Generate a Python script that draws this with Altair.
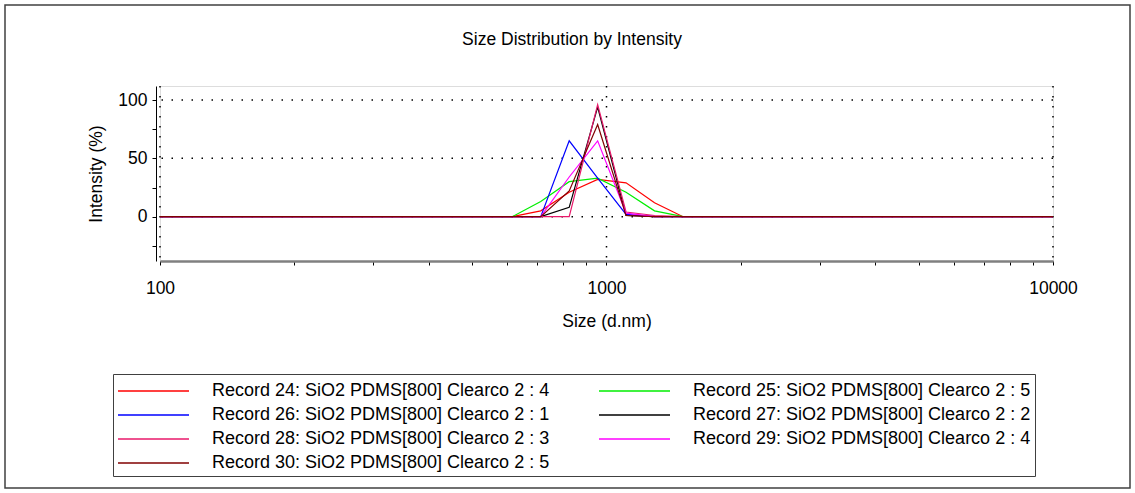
import altair as alt
import pandas as pd

# Size bins (d.nm) shown in the 100..10000 window
sizes = [91.28, 105.7, 122.4, 141.8, 164.2, 190.1, 220.2, 255.0, 295.3, 342.0,
         396.1, 458.7, 531.2, 615.1, 712.4, 825.0, 955.4, 1106, 1281, 1484,
         1719, 1990, 2305, 2669, 3091, 3580, 4145, 4801, 5560, 6439, 7456, 8635, 10000]

rec24 = [0, 0, 0, 0, 0, 0, 0, 0, 0, 0, 0, 0, 0, 0, 5, 21, 32, 29, 12, 0, 0, 0, 0, 0, 0, 0, 0, 0, 0, 0, 0, 0, 0]
rec25 = [0, 0, 0, 0, 0, 0, 0, 0, 0, 0, 0, 0, 0, 0, 13, 30, 33, 21, 5, 0, 0, 0, 0, 0, 0, 0, 0, 0, 0, 0, 0, 0, 0]
rec26 = [0, 0, 0, 0, 0, 0, 0, 0, 0, 0, 0, 0, 0, 0, 0, 65, 33, 2, 0, 0, 0, 0, 0, 0, 0, 0, 0, 0, 0, 0, 0, 0, 0]
rec27 = [0, 0, 0, 0, 0, 0, 0, 0, 0, 0, 0, 0, 0, 0, 0, 8, 94, 1, 0, 0, 0, 0, 0, 0, 0, 0, 0, 0, 0, 0, 0, 0, 0]
rec28 = [0, 0, 0, 0, 0, 0, 0, 0, 0, 0, 0, 0, 0, 0, 0, 0, 96, 4, 1, 0, 0, 0, 0, 0, 0, 0, 0, 0, 0, 0, 0, 0, 0]
rec29 = [0, 0, 0, 0, 0, 0, 0, 0, 0, 0, 0, 0, 0, 0, 0, 34, 65, 3, 0, 0, 0, 0, 0, 0, 0, 0, 0, 0, 0, 0, 0, 0, 0]
rec30 = [0, 0, 0, 0, 0, 0, 0, 0, 0, 0, 0, 0, 0, 0, 0, 22, 79, 1, 0, 0, 0, 0, 0, 0, 0, 0, 0, 0, 0, 0, 0, 0, 0]

series_names = [
    "Record 24: SiO2 PDMS[800] Clearco 2 : 4",
    "Record 25: SiO2 PDMS[800] Clearco 2 : 5",
    "Record 26: SiO2 PDMS[800] Clearco 2 : 1",
    "Record 27: SiO2 PDMS[800] Clearco 2 : 2",
    "Record 28: SiO2 PDMS[800] Clearco 2 : 3",
    "Record 29: SiO2 PDMS[800] Clearco 2 : 4",
    "Record 30: SiO2 PDMS[800] Clearco 2 : 5",
]
series_values = [rec24, rec25, rec26, rec27, rec28, rec29, rec30]
series_colors = ["#ff0000", "#00ee00", "#0000ff", "#000000", "#e8186a", "#ff00ff", "#800000"]

x_ticks = [100, 200, 300, 400, 500, 600, 700, 800, 900,
           1000, 2000, 3000, 4000, 5000, 6000, 7000, 8000, 9000, 10000]
y_ticks = [-25, 0, 25, 50, 75, 100]
grid_x = [100, 1000, 10000]
grid_y = [0, 50, 100]
chart_title = "Size Distribution by Intensity"

rows = []
for name, vals in zip(series_names, series_values):
    for s, v in zip(sizes, vals):
        rows.append({"series": name, "size": s, "intensity": v})
df = pd.DataFrame(rows)

FONT = "Liberation Sans"
W, H = 893, 175

x_scale = alt.Scale(type="log", domain=[100, 10000], nice=False)
y_scale = alt.Scale(domain=[-38, 112], nice=False, zero=False)

x_axis = alt.Axis(
    values=x_ticks,
    labelExpr="(datum.value == 100 || datum.value == 1000 || datum.value == 10000) ? format(datum.value, 'd') : ''",
    grid=False, domainColor="#808080", domainWidth=2.5, tickColor="#000000",
    tickSize=4, labelFontSize=17.5, labelFont=FONT, labelColor="#000000",
    labelPadding=14, labelOverlap=False, labelFlush=False,
    title="Size (d.nm)", titleFontSize=17.5, titleFont=FONT,
    titleFontWeight="normal", titleColor="#000000", titlePadding=16,
)
y_axis = alt.Axis(
    values=y_ticks,
    labelExpr="(datum.value % 50 == 0) ? datum.label : ''",
    grid=False, domainColor="#000000", domainWidth=1, tickColor="#000000",
    tickSize=4, offset=4, labelFontSize=17.5, labelFont=FONT, labelColor="#000000",
    labelPadding=5, labelOverlap=False, labelFlush=False,
    title="Intensity (%)", titleFontSize=17.5, titleFont=FONT,
    titleFontWeight="normal", titleColor="#000000", titlePadding=12,
)

gx = alt.Chart(pd.DataFrame({"g": grid_x})).mark_rule(
    color="#000000", strokeWidth=1.5, strokeDash=[1.5, 8.5]
).encode(x=alt.X("g:Q", scale=x_scale, axis=x_axis))

gy = alt.Chart(pd.DataFrame({"g": grid_y})).mark_rule(
    color="#000000", strokeWidth=1.5, strokeDash=[1.5, 8.5]
).encode(y=alt.Y("g:Q", scale=y_scale, axis=y_axis))

# legend symbol: horizontal stroke path starting at entry's left edge
legend_path = "M-1,0H4.92"

lines = alt.Chart(df).mark_line(strokeWidth=1.2, clip=True).encode(
    x=alt.X("size:Q", scale=x_scale, axis=x_axis),
    y=alt.Y("intensity:Q", scale=y_scale, axis=y_axis),
    color=alt.Color(
        "series:N",
        scale=alt.Scale(domain=series_names, range=series_colors),
        sort=series_names,
        legend=alt.Legend(
            orient="none", legendX=-47, legendY=288, columns=2, direction="horizontal",
            symbolType=legend_path, symbolSize=576, symbolStrokeWidth=1.5,
            labelFontSize=18, labelFont=FONT, labelColor="#000000", labelLimit=0,
            labelOffset=69, columnPadding=46, rowPadding=2, padding=4,
            strokeColor="#404040", title=None,
        ),
    ),
    order=alt.Order("size:Q"),
)

frame = alt.Chart(pd.DataFrame({"a": [0]})).mark_rect(
    filled=False, stroke="#404040", strokeWidth=1.5
).encode(
    x=alt.value(-155), x2=alt.value(970), y=alt.value(-81), y2=alt.value(402)
)

title = alt.Chart(pd.DataFrame({"t": [chart_title]})).mark_text(
    font=FONT, fontSize=17.5, color="#000000", align="center", baseline="middle"
).encode(text="t:N", x=alt.value(412), y=alt.value(-46))

chart = alt.layer(frame, gx, gy, lines, title).properties(
    width=W, height=H,
    autosize=alt.AutoSizeParams(type="none"),
    padding={"left": 160, "top": 86, "right": 82, "bottom": 232},
).configure_view(strokeWidth=0).configure(background="#ffffff")

chart.save("out.html", embed_options={"renderer": "svg", "actions": False})
